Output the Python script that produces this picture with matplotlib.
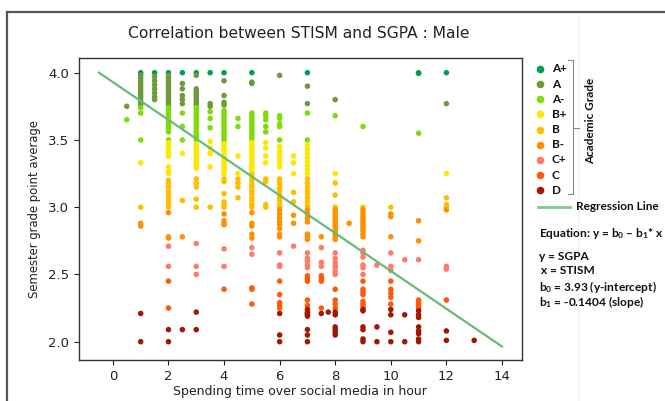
import matplotlib
matplotlib.use("Agg")
import matplotlib.pyplot as plt
from matplotlib.lines import Line2D
import numpy as np

# ---- data: SGPA values per STISM hour column ----
hours = [0.5, 1, 1.5, 2, 2.5, 3, 3.5, 4, 4.5, 5, 5.5, 6, 6.5, 7, 7.5, 7.75, 8, 8.5,
         9, 9.5, 10, 10.5, 11, 12, 13]
h0_5 = [3.75, 3.65]
h1 = [4.00, 3.98, 3.96, 3.94, 3.92, 3.90, 3.88, 3.86, 3.84, 3.82, 3.80, 3.78, 3.76,
      3.74, 3.70, 3.50, 3.33, 3.00, 2.88, 2.86, 2.21, 2.00]
h1_5 = [4.00, 3.97, 3.94, 3.91, 3.88, 3.85, 3.82, 3.80]
h2 = [4.00, 3.98, 3.96, 3.94, 3.92, 3.90, 3.88, 3.86, 3.84, 3.82, 3.80, 3.78, 3.76,
      3.74, 3.72, 3.70, 3.68, 3.66, 3.64, 3.62, 3.60, 3.58, 3.56, 3.50, 3.48, 3.46,
      3.44, 3.42, 3.40, 3.38, 3.30, 3.27, 3.25, 3.20, 3.18, 3.15, 3.12, 3.10, 3.07,
      3.05, 3.03, 3.00, 2.96, 2.78, 2.77, 2.71, 2.56, 2.45, 2.25, 2.09, 2.00]
h2_5 = [4.00, 3.92, 3.88, 3.83, 3.80, 3.77, 3.70, 3.60, 3.50, 3.40, 3.05, 2.78, 2.09]
h3 = [4.00, 3.98, 3.88, 3.86, 3.84, 3.82, 3.80, 3.78, 3.76, 3.74, 3.72, 3.70, 3.68,
      3.66, 3.64, 3.62, 3.60, 3.58, 3.56, 3.54, 3.52, 3.50, 3.47, 3.45, 3.43, 3.41,
      3.39, 3.37, 3.35, 3.33, 3.31, 3.29, 3.21, 3.18, 3.15, 3.06, 3.00, 2.73, 2.56,
      2.50, 2.22, 2.09]
h3_5 = [4.00, 3.77, 3.75, 3.71, 3.66, 3.59, 3.49, 3.44, 3.40, 3.30, 3.00]
h4 = [4.00, 3.94, 3.83, 3.78, 3.76, 3.72, 3.70, 3.68, 3.66, 3.64, 3.62, 3.60, 3.58,
      3.56, 3.54, 3.52, 3.50, 3.47, 3.45, 3.43, 3.41, 3.39, 3.37, 3.35, 3.33, 3.31,
      3.29, 3.27, 3.25, 3.21, 3.19, 3.10, 3.04, 3.02, 3.00, 2.95, 2.90, 2.88, 2.87,
      2.69, 2.56, 2.39]
h4_5 = [3.66, 3.60, 3.38, 3.25, 3.21, 3.18, 3.15, 3.07]
h5 = [4.00, 3.93, 3.92, 3.70, 3.68, 3.66, 3.64, 3.62, 3.60, 3.58, 3.56, 3.54, 3.52,
      3.50, 3.48, 3.46, 3.44, 3.42, 3.40, 3.38, 3.36, 3.34, 3.32, 3.30, 3.28, 3.26,
      3.24, 3.22, 3.20, 3.17, 3.15, 3.12, 3.10, 3.07, 3.05, 3.02, 3.00, 2.96, 2.88,
      2.86, 2.80, 2.77, 2.70, 2.65, 2.40, 2.39, 2.28]
h5_5 = [3.70, 3.68, 3.65, 3.60, 3.56, 3.48, 3.44, 3.38, 3.33, 3.21, 3.19, 3.02, 3.00]
h6 = [3.98, 3.68, 3.66, 3.62, 3.60, 3.50, 3.45, 3.42, 3.39, 3.36, 3.33, 3.30, 3.21,
      3.19, 3.17, 3.14, 3.12, 3.09, 3.07, 3.05, 3.02, 3.00, 2.98, 2.95, 2.92, 2.89,
      2.87, 2.84, 2.80, 2.78, 2.66, 2.57, 2.56, 2.45, 2.35, 2.29, 2.27, 2.25, 2.21,
      2.05, 2.00]
h6_5 = [3.38, 3.33, 3.25, 3.11, 3.04, 2.94, 2.88, 2.71]
h7 = [4.00, 3.90, 3.77, 3.70, 3.50, 3.46, 3.43, 3.40, 3.37, 3.34, 3.31, 3.28, 3.25,
      3.21, 3.18, 3.15, 3.12, 3.10, 3.07, 3.04, 3.01, 2.98, 2.95, 2.92, 2.89, 2.80,
      2.78, 2.76, 2.66, 2.62, 2.60, 2.57, 2.55, 2.49, 2.47, 2.45, 2.31, 2.27, 2.24,
      2.22, 2.21, 2.20, 2.19, 2.09, 2.05, 2.00]
h7_5 = [2.78, 2.70, 2.59, 2.56, 2.49, 2.47, 2.45, 2.25, 2.21]
h7_75 = [2.22]
h8 = [3.80, 3.68, 3.25, 3.18, 3.09, 3.00, 2.98, 2.96, 2.94, 2.92, 2.90, 2.88, 2.86,
      2.84, 2.82, 2.80, 2.78, 2.76, 2.66, 2.62, 2.59, 2.57, 2.55, 2.52, 2.50, 2.39,
      2.31, 2.28, 2.25, 2.22, 2.20, 2.11, 2.09, 2.07, 2.05]
h8_5 = [2.88]
h9 = [3.60, 3.00, 2.98, 2.96, 2.94, 2.92, 2.90, 2.88, 2.86, 2.84, 2.82, 2.80, 2.78,
      2.68, 2.66, 2.63, 2.57, 2.55, 2.50, 2.45, 2.39, 2.37, 2.35, 2.30, 2.28, 2.26,
      2.24, 2.23, 2.11, 2.09, 2.02, 2.00]
h9_5 = [2.57, 2.11, 2.00]
h10 = [3.00, 2.95, 2.93, 2.78, 2.66, 2.56, 2.53, 2.45, 2.39, 2.36, 2.33, 2.28, 2.24,
       2.20, 2.07, 2.00]
h10_5 = [2.61, 2.20, 2.00]
h11 = [4.00, 3.995, 3.55, 2.90, 2.75, 2.61, 2.31, 2.29, 2.27, 2.25, 2.23, 2.20, 2.18,
       2.11, 2.08, 2.06, 2.02, 2.00]
h12 = [4.00, 3.77, 3.25, 3.07, 3.02, 3.00, 2.98, 2.56, 2.54, 2.31, 2.08, 2.01]
h13 = [2.01]

columns = [h0_5, h1, h1_5, h2, h2_5, h3, h3_5, h4, h4_5, h5, h5_5, h6, h6_5, h7,
           h7_5, h7_75, h8, h8_5, h9, h9_5, h10, h10_5, h11, h12, h13]

grades = ["A+", "A", "A-", "B+", "B", "B-", "C+", "C", "D"]
grade_min = [3.99, 3.75, 3.50, 3.25, 3.00, 2.75, 2.50, 2.25, 0.0]
grade_colors = ["#00a050", "#6f9a3c", "#7fdc0a", "#ffe800", "#ffbf00", "#ff9000",
                "#ff7a6a", "#ff5a0a", "#a01800"]

b0 = 3.93
b1 = -0.1404
reg_x = [-0.5, 14]

# ---- build ----
xs, ys = [], []
for h, col in zip(hours, columns):
    for v in col:
        xs.append(h)
        ys.append(v)
xs = np.array(xs)
ys = np.array(ys)

def grade_index(v):
    for i, m in enumerate(grade_min):
        if v >= m:
            return i
    return len(grade_min) - 1

cols = [grade_colors[grade_index(v)] for v in ys]

plt.rcParams["mathtext.fontset"] = "custom"
plt.rcParams["mathtext.rm"] = "Lato:bold"
plt.rcParams["mathtext.bf"] = "Lato:bold"
plt.rcParams["mathtext.it"] = "Lato:bold"

W, H = 665, 401
fig = plt.figure(figsize=(W / 100, H / 100), dpi=100)
ax = fig.add_axes([78.7 / W, 1 - 360 / H, (521.7 - 78.7) / W, (360 - 58.3) / H])

ax.scatter(xs, ys, c=cols, s=16, linewidths=0, zorder=2)
rx = np.array(reg_x)
ax.plot(rx, b0 + b1 * rx, color="#66bb77", lw=1.6, zorder=3)

ax.set_xlim(-1.23, 14.71)
ax.set_ylim(1.864, 4.107)
ax.set_xticks([0, 2, 4, 6, 8, 10, 12, 14])
ax.set_yticks([2.0, 2.5, 3.0, 3.5, 4.0])
ax.set_yticklabels(["2.0", "2.5", "3.0", "3.5", "4.0"])
ax.tick_params(labelsize=9.5, colors="#222222", length=3.5)
for sp in ax.spines.values():
    sp.set_color("#333333")
    sp.set_linewidth(1.0)
ax.set_xlabel("Spending time over social media in hour", fontsize=9, color="#222222", labelpad=2)
ax.set_ylabel("Semester grade point average", fontsize=8.4, color="#222222", labelpad=5)

fig.text(299 / W, 1 - 33 / H, "Correlation between STISM and SGPA : Male",
         ha="center", va="center", fontsize=11.2, color="#222222")

# figure border (top and left visible)
fig.add_artist(Line2D([6.5 / W, 6.5 / W], [0, 1 - 12 / H], color="#555555", lw=1.6,
                      transform=fig.transFigure))
fig.add_artist(Line2D([6.5 / W, 1], [1 - 12 / H, 1 - 12 / H], color="#555555", lw=1.6,
                      transform=fig.transFigure))
fig.add_artist(Line2D([578 / W, 578 / W], [0, 1 - 14 / H], color="#f2f2f2", lw=0.8,
                      transform=fig.transFigure))

# legend (manual)
lfont = dict(family="Lato", fontweight="bold", fontsize=8.5, color="#111111")
row_y0 = 69
row_dy = 15.15
for i, (g, c) in enumerate(zip(grades, grade_colors)):
    yy = 1 - (row_y0 + i * row_dy) / H
    fig.add_artist(Line2D([540 / W], [yy], marker="o", markersize=5.5, color=c,
                          markeredgewidth=0, linestyle="none", transform=fig.transFigure))
    fig.text(552 / W, yy, g, ha="left", va="center", **lfont)

# bracket
bx = 573.3 / W
fig.add_artist(Line2D([568 / W, bx, bx, 568 / W], [1 - 60 / H, 1 - 60 / H, 1 - 194 / H, 1 - 194 / H],
                      color="#888888", lw=0.8, transform=fig.transFigure))
fig.add_artist(Line2D([bx, 578.5 / W], [1 - 128 / H, 1 - 128 / H], color="#888888", lw=0.8,
                      transform=fig.transFigure))
fig.text(591 / W, 1 - 121 / H, "Academic Grade", rotation=90, ha="center", va="center", **lfont)

# regression legend
fig.add_artist(Line2D([538 / W, 570 / W], [1 - 206.7 / H, 1 - 206.7 / H], color="#7dcb8a",
                      lw=2.0, transform=fig.transFigure))
fig.text(576.5 / W, 1 - 206.7 / H, "Regression Line", ha="left", va="center", **lfont)

efont = dict(family="Lato", fontweight="bold", fontsize=8.6, color="#111111")
fig.text(539 / W, 1 - 234 / H, r"Equation: y = b$_\mathbf{0}$ – b$_\mathbf{1}$* x", ha="left", va="center", **efont)
fig.text(539 / W, 1 - 256 / H, "y = SGPA", ha="left", va="center", **efont)
fig.text(541 / W, 1 - 271 / H, "x = STISM", ha="left", va="center", **efont)
fig.text(539 / W, 1 - 286.7 / H, r"b$_\mathbf{0}$ = 3.93 (y-intercept)", ha="left", va="center", **efont)
fig.text(539 / W, 1 - 301.7 / H, r"b$_\mathbf{1}$ = -0.1404 (slope)", ha="left", va="center", **efont)

fig.savefig("out.png", dpi=100)
